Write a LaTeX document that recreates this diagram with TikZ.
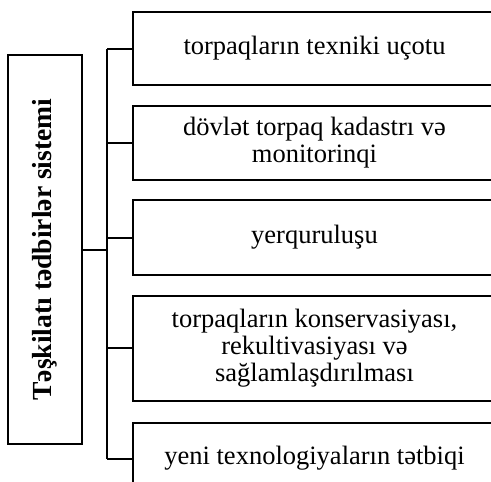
\documentclass[tikz,border=0pt]{standalone}
\usepackage{fontspec}
\setmainfont{Liberation Serif}
\usetikzlibrary{positioning, calc}
\tikzset{
    item/.style={rectangle, draw, line width=2pt, align=center, minimum width=363pt, inner sep=2pt, font=\fontsize{26.5}{27}\selectfont},
    sysbox/.style={rectangle, draw, line width=2pt, minimum width=74pt, minimum height=389pt, inner sep=0pt, font=\bfseries\fontsize{27.6}{30}\selectfont},
    link/.style={line width=2pt}
}
\begin{document}
\begin{tikzpicture}[x=1pt, y=1pt, node distance=18.5pt]
    \useasboundingbox (0,0) rectangle (491,-482);
    \clip (0,0) rectangle (491,-482);

    % Nodes
    \node (sys) [sysbox] at (45,-249.5) {\rotatebox{90}{Təşkilatı tədbirlər sistemi}};
    \node (uchot) [item, anchor=north west, minimum height=73pt] at (132,-11) {torpaqların texniki uçotu};
    \node (kadastr) [item, below=of uchot, minimum height=74pt] {dövlət torpaq kadastrı və\\monitorinqi};
    \node (yerq) [item, below=of kadastr, minimum height=75pt] {yerquruluşu};
    \node (konserv) [item, below=of yerq, minimum height=105pt] {torpaqların konservasiyası,\\rekultivasiyası və\\sağlamlaşdırılması};
    \node (texno) [item, below=20pt of konserv, minimum height=72pt] {yeni texnologiyaların tətbiqi};

    % Spine
    \coordinate (spinetop) at ($(uchot.west)+(-25,0)$);
    \coordinate (spinebot) at ($(texno.west)+(-25,0)$);
    \draw [link] (spinetop) -- (spinebot);

    % Connectors
    \foreach \b in {uchot, kadastr, yerq, konserv, texno}
        \draw [link] (\b.west) -- ++(-25,0);
    \draw [link] (sys.east) -- (sys.east -| spinetop);

\end{tikzpicture}
\end{document}
